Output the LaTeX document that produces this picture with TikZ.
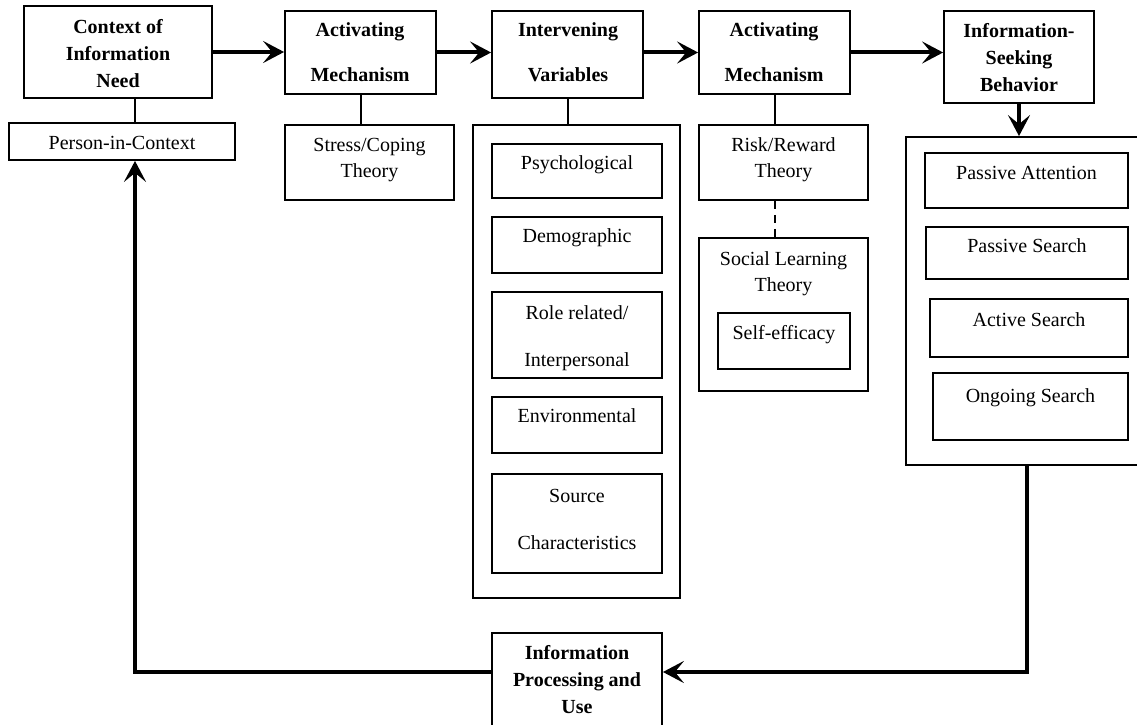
\documentclass[tikz,border=0pt]{standalone}
\usepackage{fontspec}
\setmainfont{Liberation Serif}
\usetikzlibrary{arrows.meta,fit}
\newcommand\mkbox[5]{\node[box,fit={(#2,#3) (#4,#5)}] (#1) {};}
\begin{document}
\begin{tikzpicture}[x=1pt,y=-1pt,
  box/.style={draw,line width=1.8pt,inner sep=0pt},
  thk/.style={line width=4pt,-{Stealth[length=21pt,width=22pt,inset=9pt]}},
  lnk/.style={line width=2pt},
  dlnk/.style={line width=2pt,dash pattern=on 8pt off 6pt},
  tb/.style={font=\fontsize{20}{27}\selectfont\bfseries,align=center,inner sep=0pt},
  tbw/.style={font=\fontsize{20}{45}\selectfont\bfseries,align=center,inner sep=0pt},
  tr/.style={font=\fontsize{20}{26}\selectfont,align=center,inner sep=0pt},
  trw/.style={font=\fontsize{20}{47}\selectfont,align=center,inner sep=0pt}]
\useasboundingbox (0,0) rectangle (1137,725);
\coordinate (lx) at (135,0);
\coordinate (lb) at (1027,0);
\coordinate (ly) at (0,672);
% boxes
\mkbox{ctx}{24}{6}{212}{98}
\mkbox{pic}{9}{123}{235}{160}
\mkbox{am1}{285}{11}{436}{94}
\mkbox{ss}{285}{125}{454}{200}
\mkbox{iv}{492}{11}{643}{98}
\mkbox{c3}{473}{125}{680}{598}
\mkbox{psy}{492}{144}{662}{198}
\mkbox{dem}{492}{217}{662}{273}
\mkbox{role}{492}{292}{662}{378}
\mkbox{env}{492}{397}{662}{453}
\mkbox{src}{492}{474}{662}{573}
\mkbox{am2}{699}{11}{850}{94}
\mkbox{rr}{699}{125}{868}{200}
\mkbox{slt}{699}{238}{868}{391}
\mkbox{se}{718}{313}{850}{369}
\mkbox{isb}{944}{11}{1094}{103}
\mkbox{c5}{906}{137}{1145}{465}
\mkbox{pa}{925}{153}{1128}{208}
\mkbox{ps}{926}{227}{1128}{279}
\mkbox{as}{930}{299}{1128}{357}
\mkbox{og}{933}{373}{1128}{440}
\mkbox{ip}{492}{633}{662}{745}
% texts
\node[tb] (ctxT) at (118,53.5) {Context of\\Information\\Need};
\node[tbw] (am1T) at (360,52.5) {Activating\\Mechanism};
\node[tbw] (ivT) at (568,52.5) {Intervening\\Variables};
\node[tbw] (am2T) at (774,52.5) {Activating\\Mechanism};
\node[tb] (isbT) at (1019,57.5) {Information-\\Seeking\\Behavior};
\node[tb] (ipT) at (577,679.5) {Information\\Processing and\\Use};
\node[tr] (picT) at (122,143) {Person-in-Context};
\node[tr] (ssT) at (369.5,160) {Stress/Coping\\Theory};
\node[tr] (psyT) at (577,165) {Psychological};
\node[tr] (demT) at (577,238) {Demographic};
\node[trw] (roleT) at (577,338) {Role related/\\Interpersonal};
\node[tr] (envT) at (577,416) {Environmental};
\node[trw] (srcT) at (577,519) {Source\\Characteristics};
\node[tr] (rrT) at (783.5,160) {Risk/Reward\\Theory};
\node[tr] (sltT) at (783.5,274) {Social Learning\\Theory};
\node[tr] (seT) at (784,335) {Self-efficacy};
\node[tr] (paT) at (1026.5,173) {Passive Attention};
\node[tr] (psT) at (1027,246) {Passive Search};
\node[tr] (asT) at (1029,320) {Active Search};
\node[tr] (ogT) at (1030.5,398) {Ongoing Search};
% connectors
\draw[lnk] (ctx.south -| lx) -- (pic.north -| lx);
\draw[lnk] (am1.south) -- (am1.south |- ss.north);
\draw[lnk] (iv.south) -- (iv.south |- c3.north);
\draw[lnk] (am2.south) -- (am2.south |- rr.north);
\draw[dlnk] (am2.south |- rr.south) -- (am2.south |- slt.north);
\draw[thk] (ctx.east) -- (ctx.east -| am1.west);
\draw[thk] (am1.east) -- (am1.east -| iv.west);
\draw[thk] (iv.east |- am1.east) -- (am1.east -| am2.west);
\draw[thk] (am2.east) -- (am2.east -| isb.west);
\draw[thk] (isb.south) -- (isb.south |- c5.north);
\draw[thk] (c5.south -| lb) |- (ip.east |- ly);
\draw[thk] (ip.west |- ly) -| (pic.south -| lx);
\end{tikzpicture}
\end{document}
